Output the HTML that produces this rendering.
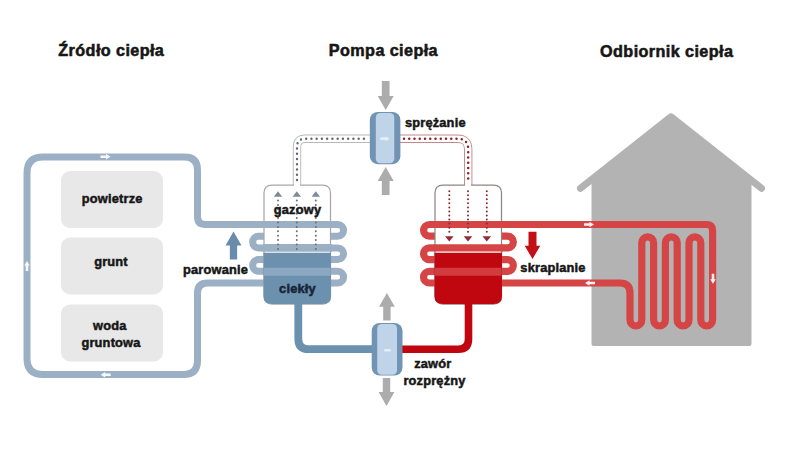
<!DOCTYPE html>
<html><head><meta charset="utf-8"><style>html,body{margin:0;padding:0;background:#fff;}svg{display:block;}</style></head>
<body><svg width="800" height="450" viewBox="0 0 800 450">
<rect width="800" height="450" fill="#fff"/>
<rect x="61" y="171" width="102" height="57" rx="9" fill="#e8e8e8"/>
<rect x="61" y="237.5" width="102" height="57" rx="9" fill="#e8e8e8"/>
<rect x="61" y="304.5" width="102" height="57" rx="9" fill="#e8e8e8"/>
<path d="M 258.5,283.0 L 207.5,283.0 Q 197.5,283.0 197.5,293.0 L 197.5,360.5 Q 197.5,374.5 183.5,374.5 L 43,374.5 Q 27,374.5 27,358.5 L 27,173 Q 27,157 43,157 L 184.5,157 Q 197.5,157 197.5,170 L 197.5,216.5 Q 197.5,224.5 205.5,224.5 L 337.75,224.5 A 5.75 5.75 0 0 1 337.75,236.2 L 258.5,236.2 A 5.75 5.75 0 0 0 258.5,247.9 L 337.75,247.9 A 5.75 5.75 0 0 1 337.75,259.6 L 258.5,259.6 A 5.75 5.75 0 0 0 258.5,271.3 L 337.75,271.3 A 5.75 5.75 0 0 1 337.75,283.0 L 258.5,283.0" fill="none" stroke="#9bb0c4" stroke-width="7"/>
<path d="M 591.5,179.5 L 671,116.8 L 751.5,179.5 L 751.5,344 Q 751.5,346 749.5,346 L 593.5,346 Q 591.5,346 591.5,344 Z" fill="#b3b3b3"/><path d="M 580.5,188.3 L 671,116.8 L 761.5,188.3" fill="none" stroke="#b3b3b3" stroke-width="7" stroke-linecap="round" stroke-linejoin="round"/>
<path d="M 712.6,320.1 L 712.6,230.5 Q 712.6,224.5 706.6,224.5 L 429.4,224.5 A 5.75 5.75 0 0 0 429.4,236.2 L 507.5,236.2 A 5.75 5.75 0 0 1 507.5,247.9 L 429.4,247.9 A 5.75 5.75 0 0 0 429.4,259.6 L 507.5,259.6 A 5.75 5.75 0 0 1 507.5,271.3 L 429.4,271.3 A 5.75 5.75 0 0 0 429.4,283.0 L 620,283.0 Q 630,283.0 630,293.0 L 630,320.1 A 5.9 5.9 0 0 0 641.8,320.1 L 641.8,242.7 A 5.9 5.9 0 0 1 653.6,242.7 L 653.6,320.1 A 5.9 5.9 0 0 0 665.4,320.1 L 665.4,242.7 A 5.9 5.9 0 0 1 677.2,242.7 L 677.2,320.1 A 5.9 5.9 0 0 0 689,320.1 L 689,242.7 A 5.9 5.9 0 0 1 700.8,242.7 L 700.8,320.1 A 5.9 5.9 0 0 0 712.6,320.1 L 712.6,242.7" fill="none" stroke="#d64545" stroke-width="7.2"/>
<path d="M 297,186 L 297,147 Q 297,138.7 305.3,138.7 L 371,138.7" fill="none" stroke="#b8b8b8" stroke-width="8.4"/>
<path d="M 297,186 L 297,147 Q 297,138.7 305.3,138.7 L 371,138.7" fill="none" stroke="#fff" stroke-width="6.5"/>
<path d="M 297,180 L 297,147 Q 297,138.7 305.3,138.7 L 368,138.7" fill="none" stroke="#606a74" stroke-width="2.4" stroke-dasharray="0 5.25" stroke-linecap="round"/>
<path d="M 399,138.7 L 457.5,138.7 Q 468.2,138.7 468.2,149.4 L 468.2,186" fill="none" stroke="#c28888" stroke-width="8.4"/>
<path d="M 399,138.7 L 457.5,138.7 Q 468.2,138.7 468.2,149.4 L 468.2,186" fill="none" stroke="#fff" stroke-width="6.5"/>
<path d="M 404,138.7 L 457.5,138.7 Q 468.2,138.7 468.2,149.4 L 468.2,182" fill="none" stroke="#87222f" stroke-width="2.5" stroke-dasharray="0 5.25" stroke-linecap="round"/>
<path d="M 264,193 Q 264,185 272,185 L 322.5,185 Q 330.5,185 330.5,193 L 330.5,296 Q 330.5,304 322.5,304 L 272,304 Q 264,304 264,296 Z" fill="#fff" stroke="#a8a8a8" stroke-width="1.25"/><rect x="294" y="183.5" width="6" height="3" fill="#fff"/><path d="M 263.5,252.8 L 331.0,252.8 L 331.0,296 Q 331.0,304 322.5,304 L 272,304 Q 263.5,304 263.5,296 Z" fill="#6c91af"/>
<path d="M 435,193 Q 435,185 443,185 L 493.5,185 Q 501.5,185 501.5,193 L 501.5,296 Q 501.5,304 493.5,304 L 443,304 Q 435,304 435,296 Z" fill="#fff" stroke="#8f8585" stroke-width="1.25"/><rect x="465" y="183.5" width="6" height="3" fill="#fff"/><path d="M 434.5,252.8 L 502.0,252.8 L 502.0,296 Q 502.0,304 493.5,304 L 443,304 Q 434.5,304 434.5,296 Z" fill="#c0060e"/>
<line x1="263" y1="224.5" x2="332" y2="224.5" stroke="#9bb0c4" stroke-width="7"/>
<line x1="263" y1="247.9" x2="332" y2="247.9" stroke="#9bb0c4" stroke-width="7.6"/>
<line x1="264" y1="271.8" x2="330.5" y2="271.8" stroke="#8ba7c2" stroke-width="8"/>
<line x1="434" y1="224.5" x2="503" y2="224.5" stroke="#d64545" stroke-width="7.2"/>
<line x1="434" y1="247.9" x2="503" y2="247.9" stroke="#d64545" stroke-width="7.2"/>
<line x1="435" y1="271.8" x2="501.5" y2="271.8" stroke="#d23c3f" stroke-width="8"/>
<line x1="278" y1="200.5" x2="278" y2="250" stroke="#66717d" stroke-width="2" stroke-dasharray="0 4.4" stroke-linecap="round"/>
<path d="M 273.8,196.8 L 278,191.2 L 282.2,196.8 Z" fill="#7d8a98"/>
<line x1="296.8" y1="200.5" x2="296.8" y2="250" stroke="#66717d" stroke-width="2" stroke-dasharray="0 4.4" stroke-linecap="round"/>
<path d="M 292.6,196.8 L 296.8,191.2 L 301.0,196.8 Z" fill="#7d8a98"/>
<line x1="315.8" y1="200.5" x2="315.8" y2="250" stroke="#66717d" stroke-width="2" stroke-dasharray="0 4.4" stroke-linecap="round"/>
<path d="M 311.6,196.8 L 315.8,191.2 L 320.0,196.8 Z" fill="#7d8a98"/>
<line x1="449.3" y1="191.2" x2="449.3" y2="235" stroke="#8a2834" stroke-width="2" stroke-dasharray="0 4.05" stroke-linecap="round"/>
<path d="M 445.0,236.2 L 449.3,241.6 L 453.6,236.2 Z" fill="#962a38"/>
<line x1="468" y1="191.2" x2="468" y2="235" stroke="#8a2834" stroke-width="2" stroke-dasharray="0 4.05" stroke-linecap="round"/>
<path d="M 463.7,236.2 L 468,241.6 L 472.3,236.2 Z" fill="#962a38"/>
<line x1="486.8" y1="191.2" x2="486.8" y2="235" stroke="#8a2834" stroke-width="2" stroke-dasharray="0 4.05" stroke-linecap="round"/>
<path d="M 482.5,236.2 L 486.8,241.6 L 491.1,236.2 Z" fill="#962a38"/>
<path d="M 298.3,303 L 298.3,339 Q 298.3,349.2 308.5,349.2 L 374,349.2" fill="none" stroke="#6c91af" stroke-width="7.8"/>
<path d="M 468.5,303 L 468.5,339 Q 468.5,349.2 458.3,349.2 L 400,349.2" fill="none" stroke="#c0060e" stroke-width="7.6"/>
<clipPath id="uc1"><rect x="370.6" y="112.8" width="29.0" height="50.6" rx="7.5"/></clipPath><rect x="369.8" y="112" width="30.6" height="52.2" rx="8" fill="#7193b4"/><rect x="375.8" y="112.9" width="18.5" height="50.400000000000006" rx="4.5" fill="#bfd4e8"/>
<clipPath id="uc2"><rect x="372.5" y="323.8" width="29.2" height="51.0" rx="7.5"/></clipPath><rect x="371.7" y="323" width="30.8" height="52.6" rx="8" fill="#7193b4"/><rect x="377.2" y="323.9" width="19.80000000000001" height="50.800000000000004" rx="4.5" fill="#bfd4e8"/>
<path d="M 385.7,110 L 393.7,96 L 389.55,96 L 389.55,81 L 381.84999999999997,81 L 381.84999999999997,96 L 377.7,96 Z" fill="#acacac"/>
<path d="M 385.7,167 L 393.7,181 L 389.55,181 L 389.55,195 L 381.84999999999997,195 L 381.84999999999997,181 L 377.7,181 Z" fill="#acacac"/>
<path d="M 386.9,293 L 394.79999999999995,306.8 L 390.59999999999997,306.8 L 390.59999999999997,320.5 L 383.2,320.5 L 383.2,306.8 L 379.0,306.8 Z" fill="#acacac"/>
<path d="M 386.5,406 L 394.4,392 L 390.2,392 L 390.2,378 L 382.8,378 L 382.8,392 L 378.6,392 Z" fill="#acacac"/>
<path d="M 233.5,231.5 L 241.5,245.5 L 237.15,245.5 L 237.15,259.5 L 229.85,259.5 L 229.85,245.5 L 225.5,245.5 Z" fill="#6a8cab"/>
<path d="M 532.5,259 L 540.3,245.7 L 536.5,245.7 L 536.5,231.7 L 528.5,231.7 L 528.5,245.7 L 524.7,245.7 Z" fill="#c30f16"/>
<path d="M -4.75,-1.4 L 0.75,-1.4 L 0.75,-2.5 L 4.75,0 L 0.75,2.5 L 0.75,1.4 L -4.75,1.4 Z" fill="#eef4fa" opacity="0.8" transform="translate(385,138.7) rotate(0)"/>
<rect x="384" y="349" width="7" height="2.6" rx="1.3" fill="#eef4fa" opacity="0.8"/>
<path d="M -5.0,-1.3 L 0.5,-1.3 L 0.5,-2.8 L 5.0,0 L 0.5,2.8 L 0.5,1.3 L -5.0,1.3 Z" fill="#fff" opacity="0.92" transform="translate(105.5,156.8) rotate(0)"/>
<path d="M -5.0,-1.3 L 0.5,-1.3 L 0.5,-2.8 L 5.0,0 L 0.5,2.8 L 0.5,1.3 L -5.0,1.3 Z" fill="#fff" opacity="0.92" transform="translate(105.7,374.8) rotate(180)"/>
<path d="M -5.0,-1.3 L 0.5,-1.3 L 0.5,-2.8 L 5.0,0 L 0.5,2.8 L 0.5,1.3 L -5.0,1.3 Z" fill="#fff" opacity="0.92" transform="translate(27,266) rotate(-90)"/>
<path d="M -5.0,-1.3 L 0.5,-1.3 L 0.5,-2.8 L 5.0,0 L 0.5,2.8 L 0.5,1.3 L -5.0,1.3 Z" fill="#fff" opacity="0.92" transform="translate(589,224.5) rotate(0)"/>
<path d="M -5.0,-1.3 L 0.5,-1.3 L 0.5,-2.8 L 5.0,0 L 0.5,2.8 L 0.5,1.3 L -5.0,1.3 Z" fill="#fff" opacity="0.92" transform="translate(590,283) rotate(180)"/>
<path d="M -5.0,-1.3 L 0.5,-1.3 L 0.5,-2.8 L 5.0,0 L 0.5,2.8 L 0.5,1.3 L -5.0,1.3 Z" fill="#fff" opacity="0.92" transform="translate(713,278.7) rotate(90)"/>
<text x="111.3" y="56.3" font-family='"Liberation Sans", sans-serif' font-weight="bold" font-size="16.2" fill="#161616" stroke="#161616" stroke-width="0.55" text-anchor="middle" letter-spacing="0.4">Źródło ciepła</text>
<text x="383.4" y="56.3" font-family='"Liberation Sans", sans-serif' font-weight="bold" font-size="16.2" fill="#161616" stroke="#161616" stroke-width="0.55" text-anchor="middle" letter-spacing="0.4">Pompa ciepła</text>
<text x="666.7" y="56.5" font-family='"Liberation Sans", sans-serif' font-weight="bold" font-size="16.2" fill="#161616" stroke="#161616" stroke-width="0.55" text-anchor="middle" letter-spacing="0.4">Odbiornik ciepła</text>
<text x="435.3" y="126.5" font-family='"Liberation Sans", sans-serif' font-weight="bold" font-size="12.8" fill="#161616" stroke="#161616" stroke-width="0.5" text-anchor="middle" letter-spacing="0.2">sprężanie</text>
<text x="297.5" y="214" font-family='"Liberation Sans", sans-serif' font-weight="bold" font-size="12.8" fill="#161616" stroke="#161616" stroke-width="0.5" text-anchor="middle" letter-spacing="0.2">gazowy</text>
<text x="215.5" y="273.7" font-family='"Liberation Sans", sans-serif' font-weight="bold" font-size="12.8" fill="#161616" stroke="#161616" stroke-width="0.5" text-anchor="middle" letter-spacing="0.2">parowanie</text>
<text x="297.5" y="293.2" font-family='"Liberation Sans", sans-serif' font-weight="bold" font-size="12.8" fill="#172436" stroke="#172436" stroke-width="0.5" text-anchor="middle" letter-spacing="0.2">ciekły</text>
<text x="553" y="272.3" font-family='"Liberation Sans", sans-serif' font-weight="bold" font-size="12.8" fill="#161616" stroke="#161616" stroke-width="0.5" text-anchor="middle" letter-spacing="0.2">skraplanie</text>
<text x="432.8" y="367.5" font-family='"Liberation Sans", sans-serif' font-weight="bold" font-size="12.8" fill="#161616" stroke="#161616" stroke-width="0.5" text-anchor="middle" letter-spacing="0.2">zawór</text>
<text x="434.5" y="384.5" font-family='"Liberation Sans", sans-serif' font-weight="bold" font-size="12.8" fill="#161616" stroke="#161616" stroke-width="0.5" text-anchor="middle" letter-spacing="0.2">rozprężny</text>
<text x="112.2" y="202.5" font-family='"Liberation Sans", sans-serif' font-weight="bold" font-size="12.8" fill="#161616" stroke="#161616" stroke-width="0.5" text-anchor="middle" letter-spacing="0.2">powietrze</text>
<text x="111" y="266.2" font-family='"Liberation Sans", sans-serif' font-weight="bold" font-size="12.8" fill="#161616" stroke="#161616" stroke-width="0.5" text-anchor="middle" letter-spacing="0.2">grunt</text>
<text x="109.8" y="329.8" font-family='"Liberation Sans", sans-serif' font-weight="bold" font-size="12.8" fill="#161616" stroke="#161616" stroke-width="0.5" text-anchor="middle" letter-spacing="0.2">woda</text>
<text x="111" y="346.7" font-family='"Liberation Sans", sans-serif' font-weight="bold" font-size="12.8" fill="#161616" stroke="#161616" stroke-width="0.5" text-anchor="middle" letter-spacing="0.2">gruntowa</text>
</svg></body></html>
